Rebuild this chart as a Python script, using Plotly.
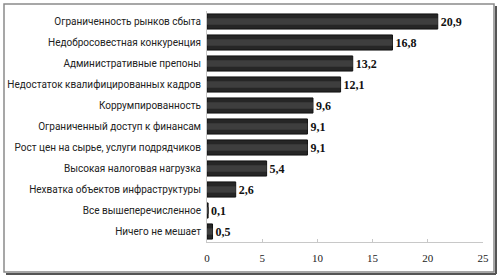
import plotly.graph_objects as go

categories = [
    "Ограниченность рынков сбыта",
    "Недобросовестная конкуренция",
    "Административные препоны",
    "Недостаток квалифицированных кадров",
    "Коррумпированность",
    "Ограниченный доступ к финансам",
    "Рост цен на сырье, услуги подрядчиков",
    "Высокая налоговая нагрузка",
    "Нехватка объектов инфраструктуры",
    "Все вышеперечисленное",
    "Ничего не мешает",
]
values = [20.9, 16.8, 13.2, 12.1, 9.6, 9.1, 9.1, 5.4, 2.6, 0.1, 0.5]
x_ticks = [0, 5, 10, 15, 20, 25]

labels = [f"{v:.1f}".replace(".", ",") for v in values]

W, H = 500, 278
ml, mr, mt, mb = 207, 17, 11, 36
pw, ph = W - ml - mr, H - mt - mb

def px_x(p):
    return (p - ml) / pw

def px_y(p):
    return 1 - (p - mt) / ph

fig = go.Figure()
fig.add_trace(go.Bar(
    x=values, y=categories, orientation="h",
    marker=dict(color="#262626", line=dict(color="#111111", width=1)),
    text=labels, textposition="outside", cliponaxis=False,
    textfont=dict(family="Liberation Serif", size=12, color="#111111", weight="bold"),
    hoverinfo="skip",
))
# soft highlight overlay for gradient look
fig.add_trace(go.Bar(
    x=values, y=categories, orientation="h", width=0.3,
    marker=dict(color="#3e3e3e", line=dict(width=0)),
    hoverinfo="skip",
))

shapes = [
    dict(type="rect", xref="paper", yref="paper", layer="above",
         x0=px_x(4), x1=px_x(494), y0=px_y(272), y1=px_y(4),
         line=dict(color="#8a8a8a", width=1.5)),
    dict(type="line", xref="paper", yref="paper", layer="above",
         x0=px_x(496), x1=px_x(496), y0=px_y(274), y1=px_y(6),
         line=dict(color="#555555", width=2)),
    dict(type="line", xref="paper", yref="paper", layer="above",
         x0=px_x(6), x1=px_x(496), y0=px_y(274), y1=px_y(274),
         line=dict(color="#555555", width=2)),
]

fig.update_layout(
    width=W, height=H,
    margin=dict(l=ml, r=mr, t=mt, b=mb, autoexpand=False),
    paper_bgcolor="white", plot_bgcolor="white",
    showlegend=False, barmode="overlay", bargap=0.28,
    shapes=shapes,
    separators=", ",
)
fig.update_xaxes(
    range=[0, 25], tickvals=x_ticks, showgrid=False, zeroline=False,
    showline=True, linecolor="#c8c8c8", linewidth=1,
    ticks="inside", ticklen=3, tickcolor="#c8c8c8",
    tickfont=dict(family="Liberation Serif", size=11, color="#222222"),
    ticklabelstandoff=6, automargin=False,
)
fig.update_yaxes(
    autorange="reversed", showgrid=False, zeroline=False,
    showline=True, linecolor="#c8c8c8", linewidth=1,
    ticks="", ticklabelstandoff=3, automargin=False,
    tickfont=dict(family="Roboto", size=10, color="#222222"),
)

fig.write_html("out.html", config={"displayModeBar": False},
               post_script="document.body.style.margin='0';")
